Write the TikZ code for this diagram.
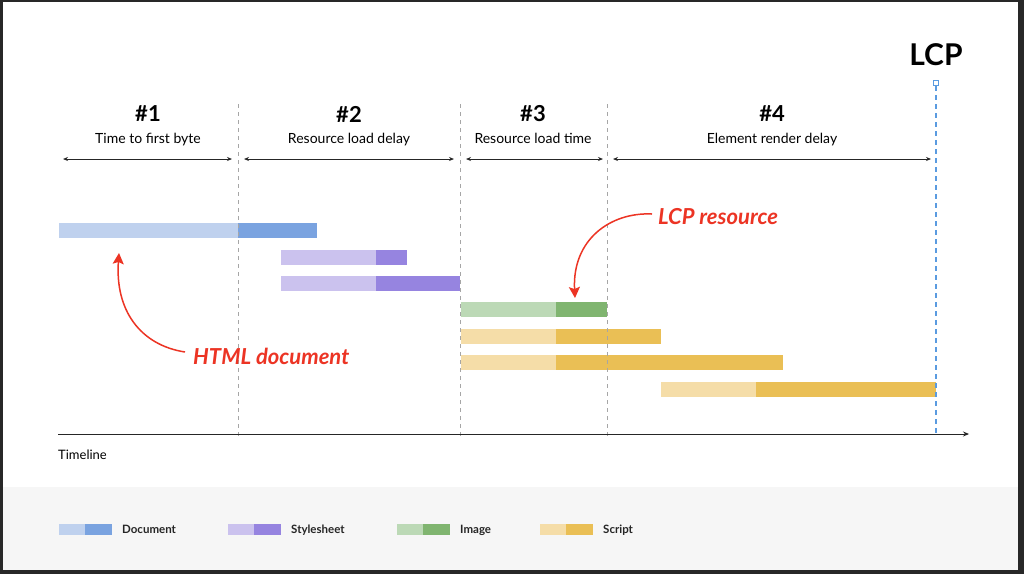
\documentclass[tikz,border=0pt]{standalone}
\usepackage{fontspec}
\setmainfont{Lato}
\usetikzlibrary{arrows.meta,positioning}

\definecolor{frame}{RGB}{40,40,40}
\definecolor{band}{RGB}{246,246,246}
\definecolor{docL}{RGB}{191,209,238}
\definecolor{docD}{RGB}{122,163,224}
\definecolor{cssL}{RGB}{203,194,238}
\definecolor{cssD}{RGB}{150,132,224}
\definecolor{imgL}{RGB}{188,217,182}
\definecolor{imgD}{RGB}{128,181,112}
\definecolor{jsL}{RGB}{245,221,168}
\definecolor{jsD}{RGB}{234,191,85}
\definecolor{lcpblue}{RGB}{90,155,224}
\definecolor{annot}{RGB}{236,52,36}

\begin{document}
\begin{tikzpicture}[x=1pt,y=1pt,yscale=-1,xscale=1,
  phase/.style={font=\fontsize{22}{24}\selectfont\bfseries},
  phasetxt/.style={font=\fontsize{14}{16}\selectfont, text height=10pt, text depth=3pt},
  span/.style={{Stealth[length=5pt,width=4pt]}-{Stealth[length=5pt,width=4pt]}, line width=0.9pt, black!85},
  divider/.style={dash pattern=on 4pt off 4pt, black!35, line width=0.8pt},
  note/.style={font=\fontsize{22}{25}\selectfont\bfseries\itshape, text=annot},
  pointer/.style={-{Stealth[length=11pt,width=11pt,inset=2pt]}, annot, line width=1.5pt},
  legtxt/.style={font=\fontsize{11.5}{13}\selectfont\bfseries, inner sep=0pt, text=black!85,
    text height=8.5pt, text depth=2.5pt}]

% frame and legend band
\fill[frame] (0,0) rectangle (1024,574);
\fill[white] (3,2) rectangle (1018,487);
\fill[band] (3,487) rectangle (1018,570);

% bars: start / split / end / top / colours
\foreach \xa/\xm/\xb/\yb/\cl/\cd in {59/238/317/223/docL/docD, 281/376/407/250/cssL/cssD,
    281/376/460/276/cssL/cssD, 461/556/607/302/imgL/imgD, 461/556/661/329/jsL/jsD,
    461/556/783/355/jsL/jsD, 661/756/936/382/jsL/jsD}{
  \fill[\cl] (\xa,\yb) rectangle (\xm,\yb+15);
  \fill[\cd] (\xm,\yb) rectangle (\xb,\yb+15);
}

% phase dividers
\foreach \x [count=\i] in {238,460,607}{
  \coordinate (d\i t) at (\x,104);
  \coordinate (d\i b) at (\x,438);
  \draw[divider] (d\i t) -- (d\i b);
}

% phase headers
\foreach \x/\n/\t in {148/1/Time to first byte, 349/2/Resource load delay,
    533/3/Resource load time, 772/4/Element render delay}{
  \node[phase] (num\n) at (\x,114) {\#\n};
  \node[phasetxt] (lbl\n) at (\x,140) {\t};
}

% phase spans
\foreach \n/\a/\b in {1/63/232, 2/244/454, 3/466/603, 4/613/931}{
  \coordinate (s\n a) at (\a,159);
  \coordinate (s\n b) at (\b,159);
  \draw[span] (s\n a) -- (s\n b);
}

% LCP marker
\node[font=\fontsize{30}{32}\selectfont\bfseries] (lcp) at (936,55) {LCP};
\node[draw=lcpblue, fill=white, line width=1pt, minimum size=5pt, inner sep=0pt] (lcpmark) at (936,83) {};
\coordinate (lcpend) at (936,436);
\draw[lcpblue, line width=1.4pt, dash pattern=on 5pt off 4pt] (lcpmark.south) -- (lcpend);

% timeline
\coordinate (t0) at (58,434);
\coordinate (t1) at (969,434);
\draw[line width=1pt, black!85, -{Stealth[length=6pt,width=5pt]}] (t0) -- (t1);
\node[font=\fontsize{13}{15}\selectfont, anchor=west, inner sep=0pt] (tl) at (58,455) {Timeline};

% annotations
\node[note, anchor=west, inner sep=0pt] (lcpres) at (658,217) {LCP resource};
\coordinate (imgtip) at (575,298);
\draw[pointer] (lcpres.west) ++(-6,-3) .. controls (610,212) and (572,240) .. (imgtip);

\node[note, anchor=west, inner sep=0pt] (html) at (193,356) {HTML document};
\coordinate (doctip) at (119,253);
\draw[pointer] (html.west) ++(-8,-4) .. controls (140,345) and (115,310) .. (doctip);

% legend
\foreach \x/\cl/\cd/\t [count=\i] in {59/docL/docD/Document, 228/cssL/cssD/Stylesheet,
    397/imgL/imgD/Image, 540/jsL/jsD/Script}{
  \fill[\cl] (\x,524) rectangle (\x+26,535);
  \fill[\cd] (\x+26,524) rectangle (\x+53,535);
  \coordinate (sw\i) at (\x+53,530);
  \node[legtxt, right=10pt of sw\i] (leg\i) {\t};
}
\end{tikzpicture}
\end{document}
